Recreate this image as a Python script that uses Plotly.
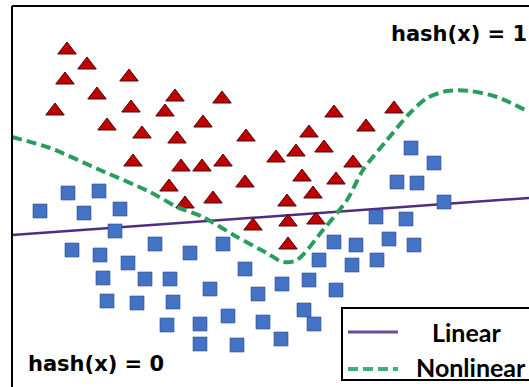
import plotly.graph_objects as go

# ---- data (x to the right, y downward, same units as the picture frame) ----
tri_x = [67, 87, 65, 129, 97, 175, 222, 55, 131, 165, 203, 107, 142, 177, 246,
         133, 181, 202, 223, 169, 245, 213, 185, 253, 287, 313, 288, 316, 288,
         334, 394, 366, 309, 296, 324, 276, 353, 302, 336]
tri_y = [50, 65, 80, 77, 95, 97, 99, 111, 108, 112, 123, 126, 134, 139, 137,
         162, 167, 167, 162, 187, 183, 199, 204, 226, 202, 194, 222, 220, 245,
         113, 109, 127, 133, 152, 148, 158, 163, 177, 180]

sq_x = [40, 68, 99, 84, 120, 115, 155, 190, 223, 72, 100, 128, 245, 103, 145,
        170, 210, 107, 137, 173, 258, 167, 200, 228, 263, 200, 237, 444, 376,
        406, 334, 356, 389, 414, 319, 352, 377, 282, 309, 336, 304, 314, 281,
        411, 434, 397, 417]
sq_y = [211, 193, 191, 213, 209, 231, 244, 253, 244, 250, 255, 263, 269, 278,
        279, 279, 289, 301, 303, 302, 294, 325, 324, 316, 322, 344, 345, 202,
        217, 219, 242, 245, 239, 245, 260, 265, 260, 284, 280, 290, 310, 324,
        339, 148, 163, 182, 183]

lin_x = [12, 529]
lin_y = [235, 198]

nl_x = [12, 50, 100, 150, 177, 203, 237, 265, 283, 297, 323, 347, 363, 387,
        410, 427, 447, 470, 497, 529]
nl_y = [137, 148, 170, 192, 207, 217, 237, 252, 262, 260, 230, 200, 170, 140,
        113, 98, 91, 91, 97, 112]

legend_labels = ["Linear", "Nonlinear"]
region_labels = ["hash(x) = 1", "hash(x) = 0"]

RED = "#c00000"
BLUE = "#4472c4"
PURPLE = "#4f2d80"
GREEN = "#2a9d5c"

fig = go.Figure()

fig.add_trace(go.Scatter(x=lin_x, y=lin_y, mode="lines",
                         line=dict(color=PURPLE, width=2.5),
                         showlegend=False, hoverinfo="skip"))
fig.add_trace(go.Scatter(x=sq_x, y=sq_y, mode="markers",
                         marker=dict(symbol="square", size=14, color=BLUE,
                                     line=dict(color="#2f4f8f", width=0.6)),
                         showlegend=False))
fig.add_trace(go.Scatter(x=tri_x, y=tri_y, mode="markers",
                         marker=dict(symbol="triangle-up", size=16, color=RED,
                                     line=dict(color="#4a0808", width=1)),
                         showlegend=False))
fig.add_trace(go.Scatter(x=nl_x, y=nl_y, mode="lines",
                         line=dict(color=GREEN, width=4, dash="10px,5px",
                                   shape="spline", smoothing=0.8),
                         showlegend=False, hoverinfo="skip"))

# frame (left and top edges visible)
fig.add_shape(type="line", x0=12, x1=12, y0=6, y1=387,
              line=dict(color="black", width=2))
fig.add_shape(type="line", x0=12, x1=529, y0=6, y1=6,
              line=dict(color="black", width=2))

# legend box
fig.add_shape(type="rect", x0=342, x1=531, y0=308, y1=380,
              line=dict(color="black", width=2), fillcolor="white", layer="above")
fig.add_shape(type="line", x0=348, x1=398, y0=332, y1=332,
              line=dict(color="#6b4c96", width=3), layer="above")
fig.add_shape(type="line", x0=348, x1=398, y0=369, y1=369,
              line=dict(color="#3fb07c", width=4, dash="10px,5px"), layer="above")

fig.add_annotation(x=503, y=332, text=legend_labels[0], showarrow=False,
                   xanchor="right", yanchor="middle",
                   font=dict(family="Lato", size=25, color="black", weight="bold"))
fig.add_annotation(x=528, y=367, text=legend_labels[1], showarrow=False,
                   xanchor="right", yanchor="middle",
                   font=dict(family="Lato", size=25, color="black", weight="bold"))

fig.add_annotation(x=529, y=34, text=region_labels[0], showarrow=False,
                   xanchor="right", yanchor="middle",
                   font=dict(family="DejaVu Sans", size=21, color="black", weight="bold"))
fig.add_annotation(x=26, y=364, text=region_labels[1], showarrow=False,
                   xanchor="left", yanchor="middle",
                   font=dict(family="DejaVu Sans", size=21, color="black", weight="bold"))

fig.update_xaxes(range=[0, 529], visible=False, showgrid=False, zeroline=False)
fig.update_yaxes(range=[387, 0], visible=False, showgrid=False, zeroline=False)
fig.update_layout(width=529, height=387, margin=dict(l=0, r=0, t=0, b=0),
                  plot_bgcolor="white", paper_bgcolor="white")

fig.write_html("out.html", config={"displayModeBar": False},
               post_script="document.body.style.margin='0';"
                           "document.body.style.overflow='hidden';")
